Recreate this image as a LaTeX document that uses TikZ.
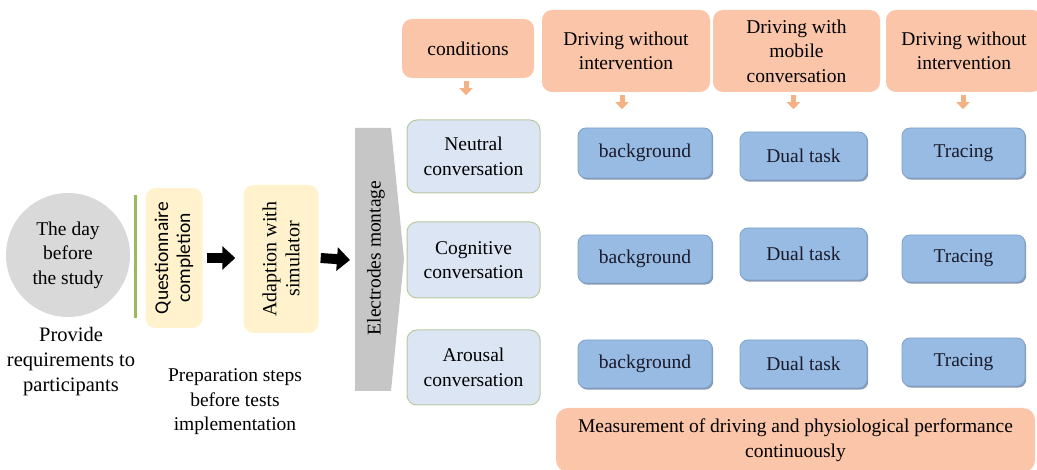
\documentclass[tikz,border=0pt]{standalone}
\usepackage{fontspec}
\setmainfont{Liberation Serif}
\newfontfamily\qfont{Carlito}
\usetikzlibrary{arrows.meta,calc,shadows}
\definecolor{salmon}{HTML}{FAC5A8}
\definecolor{salmonarrow}{HTML}{F4B183}
\definecolor{paleyellow}{HTML}{FFF2CC}
\definecolor{paleblue}{HTML}{DCE5F3}
\definecolor{palegreenline}{HTML}{B8C9A0}
\definecolor{taskblue}{HTML}{98BBE3}
\definecolor{taskedge}{HTML}{7FA1CB}
\definecolor{taskshadow}{HTML}{5E7696}
\definecolor{circlegray}{HTML}{D9D9D9}
\definecolor{chevrongray}{HTML}{C6C6C6}
\definecolor{barline}{HTML}{9BBB59}
\definecolor{inktext}{HTML}{1A1A2A}
\tikzset{
  txt/.style={font=\fontsize{19.5}{24.5}\selectfont, align=center, text=black},
  header/.style={txt, fill=salmon, rounded corners=10pt, inner sep=0pt},
  prep/.style={fill=paleyellow, rounded corners=10pt, inner sep=0pt},
  condbox/.style={txt, fill=paleblue, draw=palegreenline, line width=1pt, rounded corners=10pt, inner sep=0pt},
  taskbox/.style={txt, text=inktext, fill=taskblue, draw=taskedge, line width=0.8pt, rounded corners=8pt, inner sep=0pt,
    drop shadow={shadow xshift=1.2pt, shadow yshift=-1.6pt, fill=taskshadow, opacity=0.75}},
  blackarrow/.style={line width=10pt, -{Triangle[length=13pt,width=23pt]}, black},
  downarrow/.style={line width=5pt, -{Triangle[length=7pt,width=13pt]}, salmonarrow},
}
\begin{document}
\begin{tikzpicture}[x=1pt,y=-1pt]
\useasboundingbox (0,0) rectangle (1037,470);

% day before the study
\node[circle, fill=circlegray, minimum size=124pt, inner sep=0pt, txt] (day) at (68,255) {The day\\before\\the study};
\node[txt, font=\fontsize{20.5}{25}\selectfont] (provide) at (71,362) {Provide\\requirements to\\participants};
\draw[barline, line width=3pt] (135,195) -- (135,318);

% preparation steps
\node[prep, minimum width=57pt, minimum height=140pt] (quest) at (174,258) {};
\node[rotate=90, font=\qfont\fontsize{19.5}{22}\selectfont, align=center] at (quest.center) {Questionnaire\\completion};
\node[prep, minimum width=75pt, minimum height=148pt] (adapt) at (281,259) {};
\node[rotate=90, txt, font=\fontsize{20}{23}\selectfont] at (adapt.center) {Adaption with\\simulator};
\node[txt] (prepsteps) at (235,402) {Preparation steps\\before tests\\implementation};

% electrodes montage chevron
\path[fill=chevrongray] (355,128) -- (391,128) -- (404,259) -- (391,391) -- (355,391) -- cycle;
\coordinate (elec) at (355,260);
\node[rotate=90, txt] (electext) at (376,258) {Electrodes montage};

\draw[blackarrow] ([xshift=4pt]quest.east) -- ([xshift=-8pt]adapt.west |- quest.east);
\draw[blackarrow] ([xshift=2pt]adapt.east |- quest.east) -- ([xshift=-5pt]elec);

% conditions
\node[condbox, minimum width=133pt, minimum height=73pt] (neutral) at (473.5,156.5) {Neutral\\conversation};
\node[condbox, minimum width=133pt, minimum height=76pt] (cognitive) at (473.5,260) {Cognitive\\conversation};
\node[condbox, minimum width=133pt, minimum height=75pt] (arousal) at (473.5,367.5) {Arousal\\conversation};

% headers
\node[header, minimum width=132pt, minimum height=59pt] (hcond) at (468,48.5) {conditions};
\node[header, minimum width=168pt, minimum height=82pt] (hfirst) at (626,51) {Driving without\\intervention};
\node[header, minimum width=167pt, minimum height=82pt] (hmobile) at (796.5,51) {Driving with\\mobile\\conversation};
\node[header, minimum width=156pt, minimum height=82pt] (hlast) at (964,51) {Driving without\\intervention};

\foreach \h/\dx in {hcond/-2, hfirst/-4, hmobile/-3, hlast/-1}{
  \coordinate (\h-tip) at ($(\h.south)+(\dx,17)$);
  \draw[downarrow] ($(\h.south)+(\dx,3)$) -- (\h-tip);
}

% task boxes
\node[taskbox, minimum width=134pt, minimum height=50pt] (bg1) at (645,153) {background};
\node[taskbox, minimum width=127pt, minimum height=48pt] (dual1) at (803.5,156) {Dual task};
\node[taskbox, minimum width=123pt, minimum height=50pt] (tr1) at (963.5,153) {Tracing};

\node[taskbox, minimum width=134pt, minimum height=48pt] (bg2) at (645,259) {background};
\node[taskbox, minimum width=127pt, minimum height=52pt] (dual2) at (803.5,254) {Dual task};
\node[taskbox, minimum width=123pt, minimum height=47pt] (tr2) at (963.5,258.5) {Tracing};

\node[taskbox, minimum width=134pt, minimum height=48pt] (bg3) at (645,364) {background};
\node[taskbox, minimum width=127pt, minimum height=48pt] (dual3) at (803.5,364) {Dual task};
\node[taskbox, minimum width=123pt, minimum height=48pt] (tr3) at (963.5,362) {Tracing};

% measurement
\node[header, minimum width=479pt, minimum height=64pt, rounded corners=12pt] (measure) at (795.5,440) {Measurement of driving and physiological performance\\continuously};
\end{tikzpicture}
\end{document}
